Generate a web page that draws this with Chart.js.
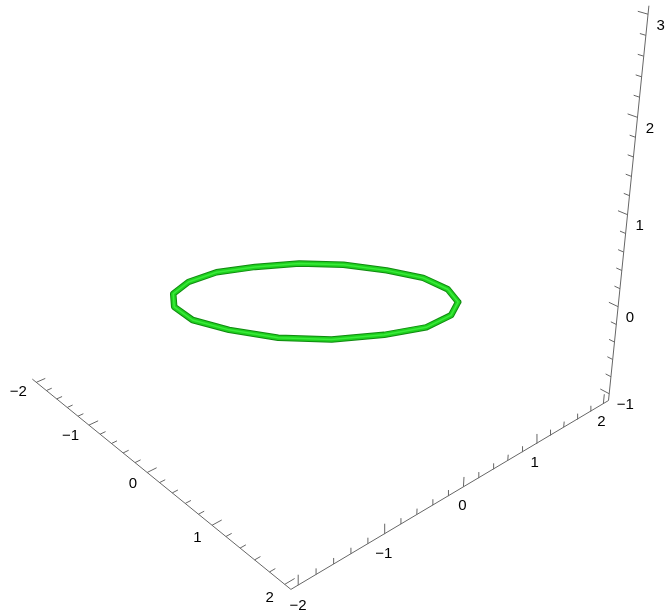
<!DOCTYPE html>
<html>
<head>
<meta charset="utf-8">
<script src="https://cdn.jsdelivr.net/npm/chart.js@4/dist/chart.umd.min.js"></script>
<style>
  html, body { margin: 0; padding: 0; background: #fff; }
  #wrap { width: 666px; height: 614px; }
</style>
</head>
<body>
<div id="wrap"><canvas id="plot"></canvas></div>
<script>
// tick values on the three box axes
const aTicks = [-2, -1, 0, 1, 2];
const bTicks = [-2, -1, 0, 1, 2];
const zTicks = [-1, 0, 1, 2, 3];
const aRange = [-2, 2];
const bRange = [-2, 2];
const zRange = [-1, 3];

// ring vertices (radius ~1.41 through (1,1,0), tilted plane)
const ringX = [1, 1.27, 1.39, 1.33, 1.12, 0.78, 0.33, -0.15, -0.61, -1, -1.27, -1.39, -1.33, -1.12, -0.78, -0.33, 0.15, 0.61, 1];
const ringY = [1, 0.61, 0.15, -0.33, -0.78, -1.12, -1.33, -1.39, -1.27, -1, -0.61, -0.15, 0.33, 0.78, 1.12, 1.33, 1.39, 1.27, 1];
const ringZ = [0, 0.13, 0.24, 0.33, 0.37, 0.37, 0.33, 0.24, 0.13, 0, -0.13, -0.24, -0.33, -0.37, -0.37, -0.33, -0.24, -0.13, 0];

const PAD = 0.08;
const a0 = aRange[0] - PAD, a1 = aRange[1] + PAD;
const b0 = bRange[0] - PAD, b1 = bRange[1] + PAD;
const z0 = zRange[0] - PAD, z1 = zRange[1] + PAD;

// camera calibration: where a few box points land on the page
const calib = [
  [[-2, b0, z0], [37, 382]], [[-1, b0, z0], [88, 425]], [[0, b0, z0], [147, 473]],
  [[1, b0, z0], [212, 526]], [[2, b0, z0], [286, 585]],
  [[a1, -2, z0], [297, 584]], [[a1, -1, z0], [385, 533]], [[a1, 0, z0], [463, 487]],
  [[a1, 1, z0], [536, 444]], [[a1, 2, z0], [605, 404]],
  [[a1, b1, -1], [608, 393]], [[a1, b1, 0], [618, 307]], [[a1, b1, 1], [627, 214]],
  [[a1, b1, 2], [638, 118]], [[a1, b1, 3], [648, 14]]
];

// least-squares projective camera (DLT)
function fitCamera(pairs) {
  const M = Array.from({length: 11}, () => new Array(11).fill(0));
  const b = new Array(11).fill(0);
  pairs.forEach(([[X, Y, Z], [u0, v0]]) => {
    const u = u0 / 100, v = v0 / 100;
    [[[X, Y, Z, 1, 0, 0, 0, 0, -u * X, -u * Y, -u * Z], u],
     [[0, 0, 0, 0, X, Y, Z, 1, -v * X, -v * Y, -v * Z], v]].forEach(([r, t]) => {
      for (let i = 0; i < 11; i++) {
        b[i] += r[i] * t;
        for (let j = 0; j < 11; j++) M[i][j] += r[i] * r[j];
      }
    });
  });
  for (let c = 0; c < 11; c++) {
    let p = c;
    for (let r = c + 1; r < 11; r++) if (Math.abs(M[r][c]) > Math.abs(M[p][c])) p = r;
    [M[c], M[p]] = [M[p], M[c]];
    [b[c], b[p]] = [b[p], b[c]];
    for (let r = c + 1; r < 11; r++) {
      const f = M[r][c] / M[c][c];
      for (let k = c; k < 11; k++) M[r][k] -= f * M[c][k];
      b[r] -= f * b[c];
    }
  }
  const p = new Array(11);
  for (let c = 10; c >= 0; c--) {
    let s = b[c];
    for (let k = c + 1; k < 11; k++) s -= M[c][k] * p[k];
    p[c] = s / M[c][c];
  }
  return ([X, Y, Z]) => {
    const w = p[8] * X + p[9] * Y + p[10] * Z + 1;
    return {x: 100 * (p[0] * X + p[1] * Y + p[2] * Z + p[3]) / w,
            y: 100 * (p[4] * X + p[5] * Y + p[6] * Z + p[7]) / w};
  };
}
const proj = fitCamera(calib);
const GAP = {x: null, y: null};

// box edges carrying the axes
const axisLines = [
  proj([a0, b0, z0]), proj([a1, b0, z0]), GAP,
  proj([a1, b0, z0]), proj([a1, b1, z0]), GAP,
  proj([a1, b1, z0]), proj([a1, b1, z1])
];

// tick marks: majors at the listed values, four minors between
const tickMarks = [];
function addTicks(values, at, dir) {
  for (let i = 0; i < values.length; i++) {
    for (let m = 0; m < 5; m++) {
      if (i === values.length - 1 && m > 0) break;
      const v = values[i] + m * 0.2;
      const len = m === 0 ? 0.11 : 0.065;
      const p = at(v);
      const q = p.map((c, k) => c + dir[k] * len);
      tickMarks.push(proj(p), proj(q), GAP);
    }
  }
}
addTicks(aTicks, v => [v, b0, z0], [0, 1, 0]);
addTicks(bTicks, v => [a1, v, z0], [0, 0, 1]);
addTicks(zTicks, v => [a1, b1, v], [-1, 0, 0]);

const tickLabels = [];
aTicks.forEach(v => tickLabels.push({text: String(v), pos: [v, b0 - 0.12, z0 - 0.07], align: 'right'}));
bTicks.forEach(v => tickLabels.push({text: String(v), pos: [a1, v, z0 - 0.22], align: 'center'}));
zTicks.forEach(v => tickLabels.push({text: String(v), pos: [a1 + 0.1, b1, v - 0.08], align: 'left'}));

const ringPts = ringX.map((a, i) => proj([a, ringY[i], ringZ[i]]));

const labelPlugin = {
  id: 'labels3d',
  afterDatasetsDraw(chart) {
    const {ctx, scales: {x, y}} = chart;
    ctx.save();
    ctx.font = '15px "Liberation Sans", Arial, sans-serif';
    ctx.fillStyle = '#000';
    ctx.textBaseline = 'middle';
    tickLabels.forEach(l => {
      const p = proj(l.pos);
      ctx.textAlign = l.align;
      ctx.fillText(l.text.replace('-', '\u2212'), x.getPixelForValue(p.x), y.getPixelForValue(p.y));
    });
    ctx.restore();
  }
};

const tube = (color, width, order) => ({
  data: ringPts, showLine: true, borderColor: color, borderWidth: width, pointRadius: 0, order,
  borderJoinStyle: 'round', borderCapStyle: 'round'
});

new Chart(document.getElementById('plot'), {
  type: 'scatter',
  data: {
    datasets: [
      tube('#3aec3a', 1.5, 0),
      tube('#1fd01f', 4.5, 1),
      tube('#108a10', 6.5, 2),
      {data: axisLines, showLine: true, borderColor: '#666', borderWidth: 1, pointRadius: 0, order: 3, spanGaps: false},
      {data: tickMarks, showLine: true, borderColor: '#666', borderWidth: 1, pointRadius: 0, order: 3, spanGaps: false}
    ]
  },
  options: {
    responsive: true,
    maintainAspectRatio: false,
    animation: false,
    layout: {padding: 0},
    plugins: {legend: {display: false}, tooltip: {enabled: false}},
    scales: {
      x: {type: 'linear', min: 0, max: 666, display: false},
      y: {type: 'linear', min: 0, max: 614, reverse: true, display: false}
    }
  },
  plugins: [labelPlugin]
});
</script>
</body>
</html>
